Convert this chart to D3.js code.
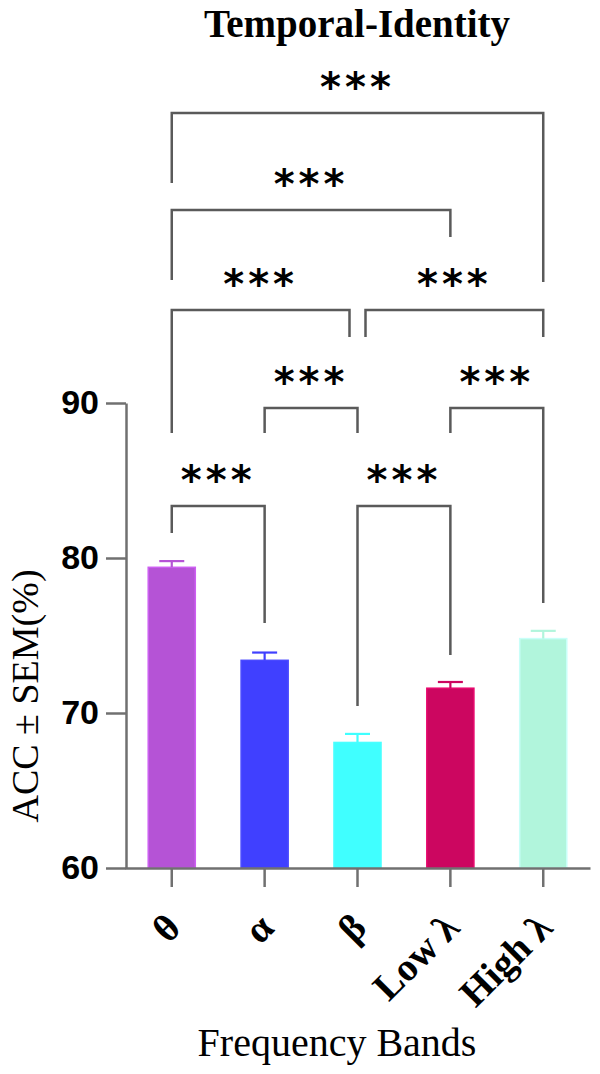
<!DOCTYPE html>
<html>
<head>
<meta charset="utf-8">
<script src="https://cdn.jsdelivr.net/npm/d3@7"></script>
<style>
  html, body { margin: 0; padding: 0; background: #fff; }
  svg { display: block; }
</style>
</head>
<body>
<svg id="chart" width="600" height="1074"></svg>
<script>
// ---- data ----
const categories = ["θ", "α", "β", "Low λ", "High λ"];
const accMean = [79.4, 73.4, 68.1, 71.6, 74.8];
const accSem = [0.4, 0.5, 0.55, 0.4, 0.5];
const barColors = ["#B553D6", "#4040FF", "#40FFFF", "#CC0660", "#B1F5DC"];
const yTicks = [60, 70, 80, 90];
const comparisons = [
  ["θ", "α"], ["β", "Low λ"], ["α", "β"], ["Low λ", "High λ"],
  ["θ", "β"], ["β", "High λ"], ["θ", "Low λ"], ["θ", "High λ"]
];
const sigLabels = ["***", "***", "***", "***", "***", "***", "***", "***"];
const titleText = "Temporal-Identity";
const yTitle = "ACC ± SEM(%)";
const xTitle = "Frequency Bands";

// ---- annotation layout (pixels) ----
const bracketTier = [0, 0, 1, 1, 2, 2, 3, 4];
const tierY = [506, 408, 310, 210, 113];
// leg bottoms [left, right]
const legBottom = [[533, 623], [706, 655], [433, 433], [433, 603],
                   [433, 337], [337, 337], [280, 237], [183, 282]];
// horizontal shift of legs where two brackets share a column [left, right]
const legShift = [[0, 0], [0, 0], [0, 0], [0, 0], [0, -8], [8, 0], [0, 0], [0, 0]];

const svg = d3.select("#chart");

const x = d3.scaleBand().domain(categories).range([125, 590])
  .paddingInner(0.493).paddingOuter(0.25);
const y = d3.scaleLinear().domain([60, 90]).range([868, 403]);

const axisColor = "#707070";

// bars
const bars = categories.map((c, i) => ({ c, m: accMean[i], s: accSem[i], col: barColors[i] }));

svg.append("g").selectAll("rect").data(bars).join("rect")
  .attr("x", d => x(d.c))
  .attr("y", d => y(d.m))
  .attr("width", x.bandwidth())
  .attr("height", d => y(60) - y(d.m))
  .attr("fill", d => d.col)
  .attr("stroke", d => d3.color(d.col).brighter(0.35))
  .attr("stroke-width", 1.5);

// error bars (upper half)
const eb = svg.append("g");
eb.selectAll("line.v").data(bars).join("line").attr("class", "v")
  .attr("x1", d => x(d.c) + x.bandwidth() / 2)
  .attr("x2", d => x(d.c) + x.bandwidth() / 2)
  .attr("y1", d => y(d.m))
  .attr("y2", d => y(d.m + d.s))
  .attr("stroke", d => d.col).attr("stroke-width", 2.2);
eb.selectAll("line.cap").data(bars).join("line").attr("class", "cap")
  .attr("x1", d => x(d.c) + x.bandwidth() / 2 - 12.5)
  .attr("x2", d => x(d.c) + x.bandwidth() / 2 + 12.5)
  .attr("y1", d => y(d.m + d.s))
  .attr("y2", d => y(d.m + d.s))
  .attr("stroke", d => d.col).attr("stroke-width", 2.2);

// y axis
const yAxis = svg.append("g").attr("transform", "translate(126,0)")
  .call(d3.axisLeft(y).tickValues(yTicks).tickSize(20).tickSizeOuter(0).tickPadding(7));
yAxis.select(".domain").attr("stroke", axisColor).attr("stroke-width", 2.5);
yAxis.selectAll(".tick line").attr("stroke", axisColor).attr("stroke-width", 2.5);
yAxis.selectAll(".tick text")
  .attr("font-family", "'Liberation Sans', Arial, sans-serif")
  .attr("font-weight", "bold").attr("font-size", 34).attr("fill", "#000");

// x axis
const xAxis = svg.append("g").attr("transform", "translate(0,868)")
  .call(d3.axisBottom(x).tickSize(19).tickSizeOuter(0).tickFormat(() => ""));
xAxis.select(".domain").attr("stroke", axisColor).attr("stroke-width", 2.5);
xAxis.selectAll(".tick line").attr("stroke", axisColor).attr("stroke-width", 2.5);

// x tick labels rotated
svg.append("g").selectAll("text").data(categories).join("text")
  .attr("transform", d => `translate(${x(d) + x.bandwidth() / 2 + 11},${930}) rotate(-45)`)
  .attr("text-anchor", "end")
  .attr("font-family", "'Liberation Serif', 'Times New Roman', serif")
  .attr("font-weight", "bold").attr("font-size", 39).attr("fill", "#000")
  .text(d => d);

// title
svg.append("text").attr("x", 357).attr("y", 37).attr("text-anchor", "middle")
  .attr("font-family", "'Liberation Serif', 'Times New Roman', serif")
  .attr("font-weight", "bold").attr("font-size", 39).text(titleText);

// y title
svg.append("text").attr("transform", "translate(38,696) rotate(-90)")
  .attr("text-anchor", "middle")
  .attr("font-family", "'Liberation Serif', 'Times New Roman', serif")
  .attr("font-size", 38).text(yTitle);

// x title
svg.append("text").attr("x", 337).attr("y", 1056).attr("text-anchor", "middle")
  .attr("font-family", "'Liberation Serif', 'Times New Roman', serif")
  .attr("font-size", 40).text(xTitle);

// significance brackets
const cx = c => x(c) + x.bandwidth() / 2;
const br = svg.append("g");
comparisons.forEach((pair, i) => {
  const x1 = cx(pair[0]) + legShift[i][0];
  const x2 = cx(pair[1]) + legShift[i][1];
  const yl = tierY[bracketTier[i]];
  br.append("path")
    .attr("d", d3.line()([[x1, legBottom[i][0]], [x1, yl], [x2, yl], [x2, legBottom[i][1]]]))
    .attr("fill", "none").attr("stroke", "#5a5a5a").attr("stroke-width", 2.5);
  br.append("text")
    .attr("x", (x1 + x2) / 2).attr("y", yl - 12)
    .attr("text-anchor", "middle")
    .attr("font-family", "'DejaVu Sans', sans-serif")
    .attr("font-weight", "bold").attr("font-size", 40)
    .attr("letter-spacing", 4)
    .text(sigLabels[i]);
});
</script>
</body>
</html>
